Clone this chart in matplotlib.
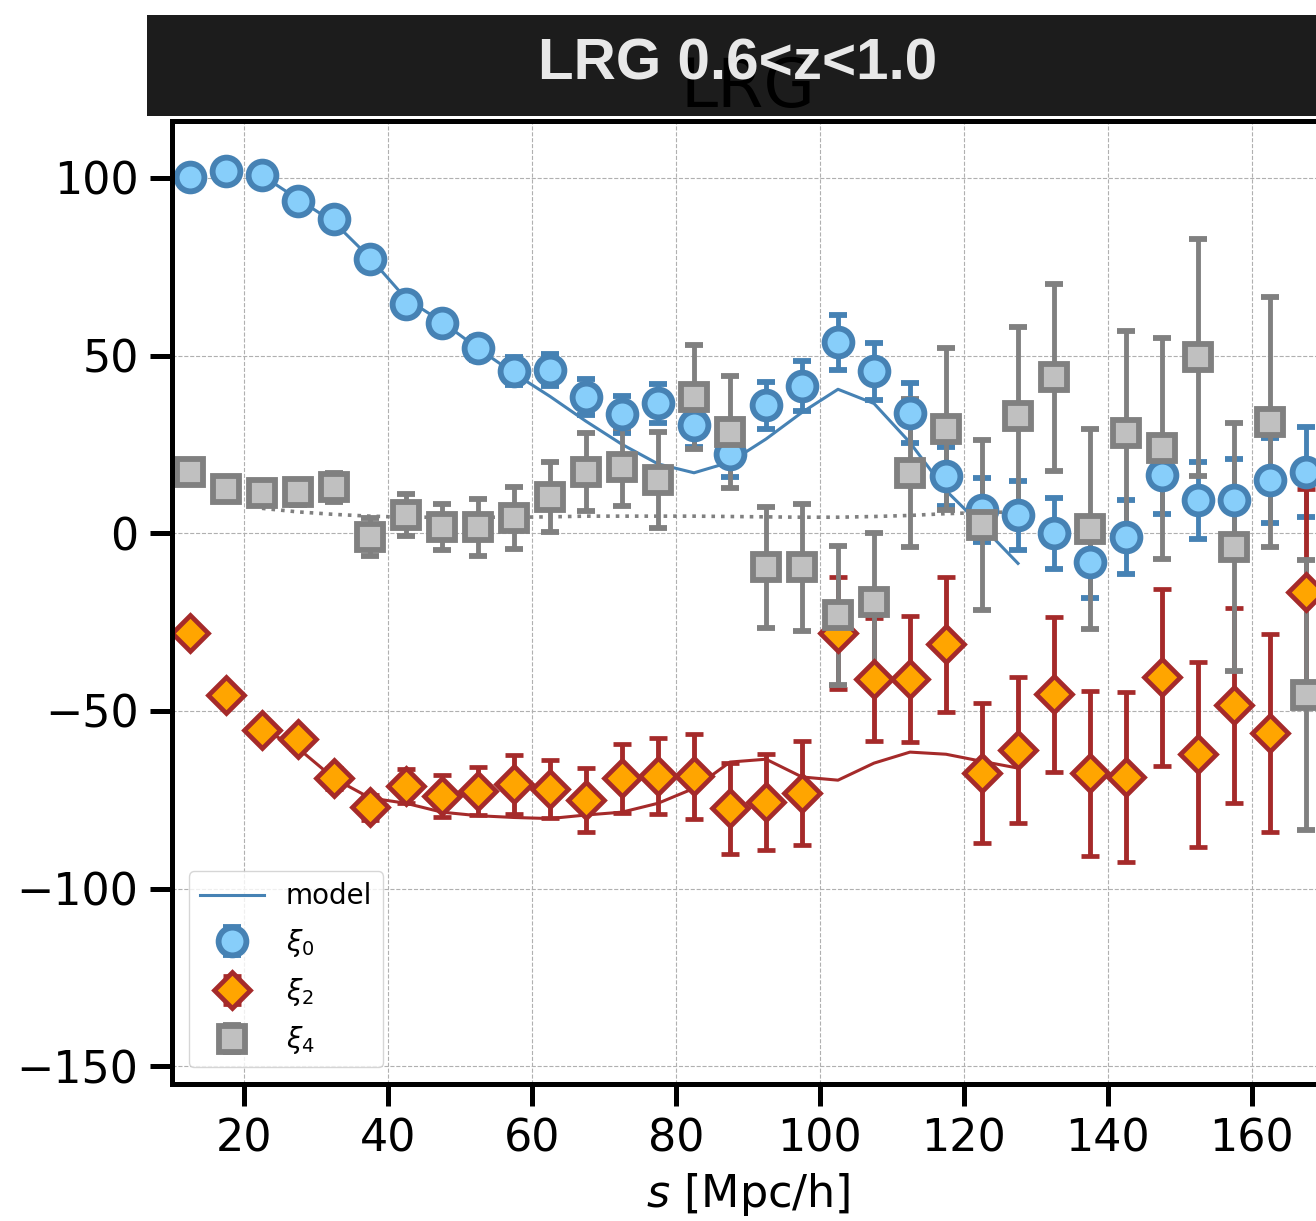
import matplotlib
matplotlib.use('Agg')
import matplotlib.pyplot as plt
from matplotlib.patches import Rectangle
from matplotlib.ticker import MultipleLocator

# separation bins [Mpc/h]
s = [12.5, 17.5, 22.5, 27.5, 32.5, 37.5, 42.5, 47.5, 52.5, 57.5, 62.5,
     67.5, 72.5, 77.5, 82.5, 87.5, 92.5, 97.5, 102.5, 107.5, 112.5, 117.5,
     122.5, 127.5, 132.5, 137.5, 142.5, 147.5, 152.5, 157.5, 162.5, 167.5]

# monopole
xi0 = [100.2, 102.0, 100.7, 93.4, 88.3, 77.1, 64.4, 59.1, 52.0, 45.6, 45.9,
       38.3, 33.5, 36.6, 30.4, 22.2, 36.0, 41.4, 53.7, 45.6, 33.8, 16.0,
       6.5, 5.0, 0.0, -8.2, -1.1, 16.3, 9.3, 9.3, 14.9, 17.2]
err0 = [1.0, 1.0, 1.2, 1.4, 1.6, 1.8, 2.0, 2.5, 3.3, 4.0, 4.6,
        5.0, 5.2, 5.5, 6.0, 6.5, 6.6, 7.0, 7.7, 8.0, 8.4, 8.4,
        8.9, 9.6, 10.0, 10.1, 10.4, 11.0, 10.8, 11.5, 12.0, 12.7]

# quadrupole
xi2 = [-28.1, -45.6, -55.4, -58.0, -69.0, -77.1, -71.2, -74.0, -72.6, -70.6, -72.0,
       -75.1, -69.0, -68.3, -68.4, -77.4, -75.7, -73.2, -28.1, -41.1, -41.1, -31.2,
       -67.5, -61.1, -45.3, -67.5, -68.7, -40.5, -62.2, -48.4, -56.3, -16.6]
err2 = [1.5, 2.0, 2.3, 2.7, 3.0, 3.5, 4.8, 6.0, 6.8, 8.3, 8.2,
        9.0, 9.8, 10.8, 12.0, 12.8, 13.5, 14.6, 15.8, 17.3, 17.7, 19.0,
        19.7, 20.5, 21.8, 23.2, 23.9, 24.9, 26.0, 27.4, 27.9, 29.0]

# hexadecapole
xi4 = [17.2, 12.4, 11.3, 11.5, 12.9, -1.1, 5.1, 1.7, 1.7, 4.2, 10.1,
       17.2, 18.6, 14.9, 38.3, 28.4, -9.6, -9.6, -23.1, -19.4, 16.9, 29.3,
       2.3, 32.9, 43.9, 1.1, 28.1, 23.9, 49.5, -3.9, 31.2, -45.6]
err4 = [2.0, 2.5, 3.0, 3.5, 4.0, 5.4, 6.0, 6.5, 8.0, 8.7, 9.9,
        11.0, 11.0, 13.5, 14.6, 15.8, 17.0, 17.9, 19.5, 19.5, 20.8, 22.8,
        23.8, 25.0, 26.3, 28.1, 28.7, 31.1, 33.3, 34.9, 35.2, 38.0]

# best-fit model, fitted range only
s_model = [22.5, 27.5, 32.5, 37.5, 42.5, 47.5, 52.5, 57.5, 62.5, 67.5, 72.5,
           77.5, 82.5, 87.5, 92.5, 97.5, 102.5, 107.5, 112.5, 117.5, 122.5, 127.5]
model0 = [100.7, 94.0, 87.5, 77.5, 66.0, 59.5, 52.0, 45.0, 38.5, 31.5, 25.0,
          19.5, 17.0, 20.0, 26.5, 34.0, 40.5, 36.5, 25.5, 12.0, 2.0, -8.5]
model2 = [-55.0, -60.5, -69.0, -74.5, -76.0, -78.5, -79.5, -80.0, -80.3, -79.3, -78.5,
          -76.0, -71.8, -64.4, -63.6, -68.6, -69.5, -64.7, -61.6, -62.2, -64.2, -66.1]
model4 = [7.0, 6.0, 5.3, 4.8, 4.5, 4.5, 4.5, 4.5, 4.6, 4.8, 4.8,
          4.8, 4.8, 4.7, 4.6, 4.5, 4.5, 4.7, 5.0, 5.5, 5.8, 6.0]

title_box = 'LRG 0.6<z<1.0'
panel_title = 'LRG'

W, H, DPI = 1316, 1221, 100
fig = plt.figure(figsize=(W / DPI, H / DPI), dpi=DPI)
# axes runs past the right edge of the picture (cropped panel)
ax = fig.add_axes([172 / W, 137 / H, 1152 / W, 963 / H])

ax.plot(s_model, model0, color='steelblue', lw=2.2, label='model')
ax.plot(s_model, model2, color='brown', lw=2.2)
ax.plot(s_model, model4, color='grey', lw=2.6, ls=':')

eb_kw = dict(ls='none', elinewidth=3.5, capsize=6.5, capthick=3.5)
ax.errorbar(s, xi0, yerr=err0, fmt='o', ms=20, mew=4.2, mfc='lightskyblue',
            mec='steelblue', ecolor='steelblue', label=r'$\xi_0$', **eb_kw)
ax.errorbar(s, xi2, yerr=err2, fmt='D', ms=18, mew=3.4, mfc='orange',
            mec='brown', ecolor='brown', label=r'$\xi_2$', **eb_kw)
ax.errorbar(s, xi4, yerr=err4, fmt='s', ms=18.5, mew=4.2, mfc='silver',
            mec='grey', ecolor='grey', label=r'$\xi_4$', **eb_kw)

ax.set_xlim(10, 170)
ax.set_ylim(-155, 116)
ax.xaxis.set_major_locator(MultipleLocator(20))
ax.yaxis.set_major_locator(MultipleLocator(50))
ax.grid(True, ls='--', lw=0.8, color='#b0b0b0')
ax.set_axisbelow(True)
ax.tick_params(labelsize=32, length=16, width=3.6, direction='out', pad=8)
for sp in ax.spines.values():
    sp.set_linewidth(3.6)
ax.set_xlabel('$s$ [Mpc/h]', fontsize=32, labelpad=8)
ax.set_title(panel_title, fontsize=48, pad=8)

ax.legend(loc='lower left', fontsize=20, handlelength=2.3, labelspacing=0.6,
          borderaxespad=0.6)

# black header bar drawn over the panel title
fig.patches.append(Rectangle((147 / W, 1 - 116 / H), 1200 / W, 101 / H,
                             transform=fig.transFigure, facecolor='black',
                             alpha=0.89, edgecolor='none', zorder=5))
fig.text(738 / W, 1 - 64 / H, title_box, color='white', alpha=0.9,
         fontsize=42, fontweight='bold', family='Liberation Sans',
         ha='center', va='center', zorder=6)

fig.savefig('out.png', dpi=DPI)
